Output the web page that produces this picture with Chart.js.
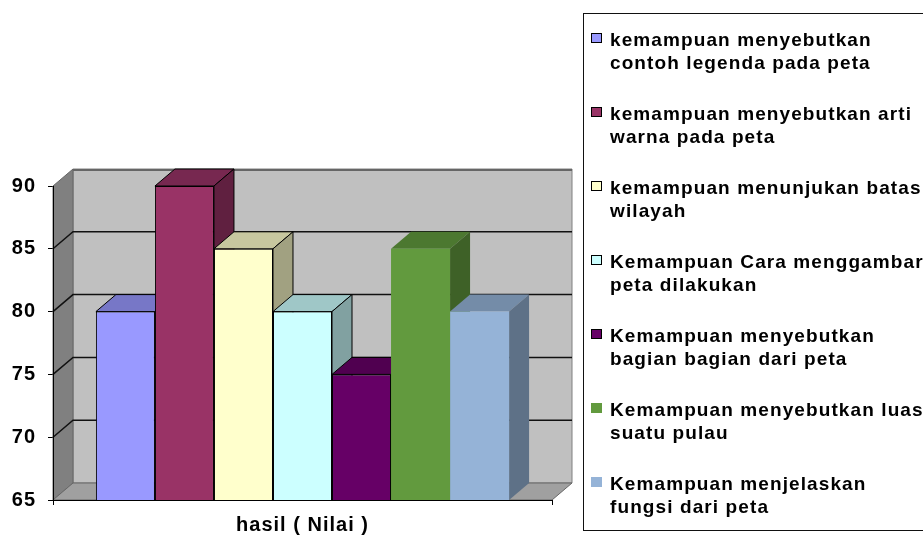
<!DOCTYPE html>
<html>
<head>
<meta charset="utf-8">
<script src="https://cdn.jsdelivr.net/npm/chart.js@4/dist/chart.umd.min.js"></script>
<style>
body { margin: 0; width: 923px; height: 537px; overflow: hidden; background: #fff; position: relative; font-family: "Liberation Sans", Arial, sans-serif; }
#chart { position: absolute; left: 0; top: 0; }
#legend { position: absolute; left: 583px; top: 13px; width: 400px; height: 518px; border: 1px solid #111; box-sizing: border-box; }
.marker { position: absolute; left: 7px; width: 11px; height: 10px; box-sizing: border-box; }
.line { position: absolute; left: 26px; white-space: nowrap; font-weight: bold; font-size: 19px; line-height: 23px; letter-spacing: 1.1px; color: #000; }
</style>
</head>
<body>
<canvas id="chart" width="923" height="537"></canvas>
<div id="legend"></div>
<script>
const categories = ['hasil ( Nilai )'];

const seriesNames = [
    ['kemampuan menyebutkan', 'contoh legenda pada peta'],
    ['kemampuan menyebutkan arti', 'warna pada peta'],
    ['kemampuan menunjukan batas', 'wilayah'],
    ['Kemampuan Cara menggambar', 'peta dilakukan'],
    ['Kemampuan menyebutkan', 'bagian bagian dari peta'],
    ['Kemampuan menyebutkan luas', 'suatu pulau'],
    ['Kemampuan menjelaskan', 'fungsi dari peta']
];

const seriesValues = [80, 90, 85, 80, 75, 85, 80];

const seriesColors = ['#9999FF', '#993366', '#FFFFCC', '#CCFFFF', '#660066', '#629A3E', '#95B3D7'];
const seriesOutlined = [true, true, true, true, true, false, false];

const dx = 20, dy = -17;
const fontFamily = '"Liberation Sans", Arial, sans-serif';

function shade(hex, f) {
    const n = parseInt(hex.slice(1), 16);
    const r = Math.round(((n >> 16) & 255) * f);
    const g = Math.round(((n >> 8) & 255) * f);
    const b = Math.round((n & 255) * f);
    return `rgb(${r}, ${g}, ${b})`;
}

function poly(ctx, pts, fill, stroke) {
    ctx.beginPath();
    ctx.moveTo(pts[0][0], pts[0][1]);
    for (let i = 1; i < pts.length; i++) ctx.lineTo(pts[i][0], pts[i][1]);
    ctx.closePath();
    ctx.fillStyle = fill;
    ctx.fill();
    if (stroke) {
        ctx.strokeStyle = stroke;
        ctx.lineWidth = 1;
        ctx.stroke();
    }
}

// walls, floor and the top/side faces of the bars (front faces come from chart.js)
const box3d = {
    id: 'box3d',
    beforeDraw(chart) {
        chart.ctx.letterSpacing = '1px';
    },
    beforeDatasetsDraw(chart) {
        const { ctx, chartArea: a, scales: { y } } = chart;
        const L = a.left, R = a.right, T = a.top, B = a.bottom;
        ctx.save();

        poly(ctx, [[L + dx, T + dy], [R + dx, T + dy], [R + dx, B + dy], [L + dx, B + dy]], '#c0c0c0', '#808080');
        poly(ctx, [[L, T], [L + dx, T + dy], [L + dx, B + dy], [L, B]], '#808080', '#666');
        poly(ctx, [[L, B], [L + dx, B + dy], [R + dx, B + dy], [R, B]], '#a0a0a0', '#666');

        y.ticks.forEach(t => {
            if (t.value <= y.min || t.value >= y.max) return;
            const py = y.getPixelForValue(t.value);
            ctx.beginPath();
            ctx.moveTo(L, py);
            ctx.lineTo(L + dx, py + dy);
            ctx.lineTo(R + dx, py + dy);
            ctx.strokeStyle = '#111';
            ctx.lineWidth = 1.5;
            ctx.stroke();
        });
        // top edge of the back wall
        ctx.beginPath();
        ctx.moveTo(L + dx, T + dy + 1);
        ctx.lineTo(R + dx, T + dy + 1);
        ctx.strokeStyle = '#666';
        ctx.lineWidth = 2;
        ctx.stroke();

        for (let i = 0; i < seriesValues.length; i++) {
            const el = chart.getDatasetMeta(i).data[0];
            const l = el.x - el.width / 2, r = el.x + el.width / 2, t = el.y;
            const b = Math.min(el.base, B);
            const edge = seriesOutlined[i] ? '#000' : null;
            poly(ctx, [[l, t], [l + dx, t + dy], [r + dx, t + dy], [r, t]], shade(seriesColors[i], 0.78), edge);
            poly(ctx, [[r, t], [r + dx, t + dy], [r + dx, b + dy], [r, b]], shade(seriesColors[i], 0.63), edge);
        }
        ctx.restore();
    }
};

const datasets = seriesNames.map((name, i) => ({
    label: name.join(' '),
    data: [seriesValues[i]],
    backgroundColor: seriesColors[i],
    borderColor: '#000',
    borderWidth: seriesOutlined[i] ? 1 : 0,
    borderSkipped: false,
    categoryPercentage: 0.828,
    barPercentage: 1
}));

const chart = new Chart(document.getElementById('chart'), {
    type: 'bar',
    data: { labels: categories, datasets: datasets },
    options: {
        responsive: false,
        animation: false,
        layout: { padding: { top: 186, right: 371, left: 0, bottom: 0 } },
        plugins: { legend: { display: false }, tooltip: { enabled: false } },
        scales: {
            x: {
                offset: true,
                grid: { drawOnChartArea: false, offset: true, tickLength: 5, color: '#000' },
                border: { color: '#000', width: 1, z: 1 },
                ticks: { color: '#000', padding: 8, font: { family: fontFamily, size: 20, weight: 'bold' } },
                afterFit: s => { s.height = 37; }
            },
            y: {
                min: 65,
                max: 90,
                grid: { drawOnChartArea: false, tickLength: 5, color: '#000' },
                border: { color: '#000', width: 1, z: 1 },
                ticks: { stepSize: 5, color: '#000', padding: 12, font: { family: fontFamily, size: 20, weight: 'bold' } },
                afterFit: s => { s.width = 53; }
            }
        }
    },
    plugins: [box3d]
});

// legend as html so the two-line labels wrap like the original
const legend = document.getElementById('legend');
seriesNames.forEach((name, i) => {
    const top = 14 + 74 * i;
    const marker = document.createElement('div');
    marker.className = 'marker';
    marker.style.top = (top + 5) + 'px';
    marker.style.background = seriesColors[i];
    if (seriesOutlined[i]) marker.style.border = '1px solid #000';
    legend.appendChild(marker);
    name.forEach((text, k) => {
        const line = document.createElement('div');
        line.className = 'line';
        line.style.top = (top + 23 * k) + 'px';
        line.textContent = text;
        legend.appendChild(line);
    });
});
</script>
</body>
</html>
